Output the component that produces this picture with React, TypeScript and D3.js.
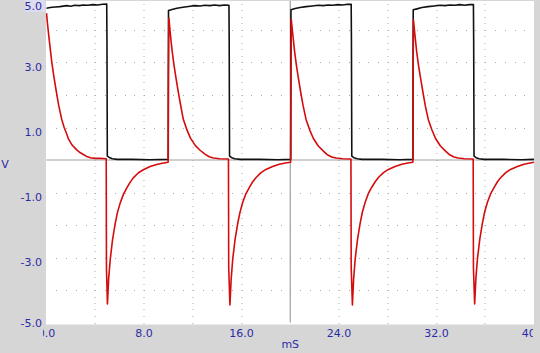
import React, { useRef, useEffect } from "react"
import * as d3 from "d3"

// time in mS, value in V
const xTicks = [0, 8, 16, 24, 32, 40]
const yTicks = [5, 3, 1, -1, -3, -5]
const xLabels = ["0.0", "8.0", "16.0", "24.0", "32.0", "40.0"]
const yLabels = ["5.0", "3.0", "1.0", "-1.0", "-3.0", "-5.0"]

const blackCycle1: [number, number][] = [
  [0, 4.67], [0.3, 4.69], [0.7, 4.71], [1.1, 4.72], [1.65, 4.75], [2.0, 4.73], [2.3, 4.76],
  [2.7, 4.75], [3.0, 4.77], [3.4, 4.76], [3.8, 4.78], [4.2, 4.77], [4.6, 4.79], [4.94, 4.8],
  [4.96, 3.75], [4.99, 0.12], [5.15, 0.08], [5.4, 0.04], [5.8, 0.02], [7.0, 0.02], [8.5, 0.01], [9.99, 0.02],
]
const blackCycle2: [number, number][] = [
  [10.01, 4.6], [10.3, 4.63], [10.7, 4.67], [11.2, 4.7], [11.8, 4.73], [12.2, 4.75], [12.6, 4.74],
  [13.0, 4.76], [13.4, 4.75], [13.8, 4.77], [14.2, 4.75], [14.6, 4.77], [14.97, 4.76],
  [14.99, 3.7], [15.02, 0.12], [15.2, 0.07], [15.45, 0.04], [15.9, 0.02], [17.5, 0.02], [19.0, 0.01], [20.04, 0.02],
]
const blackCycle3: [number, number][] = [
  [20.06, 4.62], [20.4, 4.66], [20.8, 4.69], [21.3, 4.72], [21.8, 4.74], [22.3, 4.76], [22.7, 4.75],
  [23.1, 4.77], [23.5, 4.76], [23.9, 4.78], [24.3, 4.77], [24.7, 4.79], [25.0, 4.79],
  [25.02, 3.7], [25.05, 0.12], [25.22, 0.07], [25.5, 0.04], [25.9, 0.02], [27.5, 0.02], [29.0, 0.01], [30.07, 0.02],
]
const blackCycle4: [number, number][] = [
  [30.09, 4.62], [30.4, 4.65], [30.8, 4.69], [31.3, 4.72], [31.8, 4.74], [32.3, 4.76], [32.7, 4.75],
  [33.1, 4.77], [33.5, 4.76], [33.9, 4.78], [34.3, 4.76], [34.7, 4.78], [35.03, 4.78],
  [35.05, 3.7], [35.08, 0.12], [35.25, 0.07], [35.5, 0.04], [35.9, 0.02], [37.5, 0.02], [39.0, 0.01], [40.0, 0.02],
]

const redCycle1: [number, number][] = [
  [0.0, 4.52], [0.08, 4.2], [0.2, 3.78], [0.32, 3.38], [0.43, 3.02], [0.6, 2.58], [0.8, 2.12],
  [1.0, 1.68], [1.25, 1.25], [1.45, 1.0], [1.66, 0.8], [1.79, 0.66], [2.1, 0.46], [2.48, 0.31],
  [2.75, 0.23], [3.02, 0.17], [3.3, 0.11], [3.6, 0.07], [3.98, 0.05], [4.4, 0.05], [4.9, 0.04],
  [4.92, -3.35], [5.0, -4.43], [5.1, -3.65], [5.23, -3.06], [5.42, -2.45], [5.64, -1.95], [5.82, -1.62],
  [6.05, -1.32], [6.32, -1.05], [6.6, -0.85], [6.87, -0.68], [7.12, -0.55], [7.52, -0.4], [7.94, -0.3],
  [8.5, -0.2], [9.04, -0.14], [9.5, -0.1], [9.98, -0.07],
]
const redCycle2: [number, number][] = [
  [10.0, 2.6], [10.04, 4.37], [10.15, 3.92], [10.3, 3.38], [10.45, 2.95], [10.6, 2.58], [10.8, 2.12],
  [11.0, 1.7], [11.22, 1.26], [11.5, 0.95], [11.8, 0.68], [12.2, 0.45], [12.6, 0.3], [13.0, 0.18],
  [13.35, 0.1], [13.69, 0.06], [14.2, 0.04], [14.93, 0.03],
  [14.95, -3.3], [15.05, -4.46], [15.15, -3.68], [15.28, -3.05], [15.47, -2.45], [15.68, -1.97], [15.87, -1.62],
  [16.1, -1.3], [16.36, -1.04], [16.65, -0.84], [16.92, -0.67], [17.2, -0.54], [17.6, -0.39], [18.0, -0.29],
  [18.55, -0.2], [19.1, -0.13], [19.6, -0.09], [20.03, -0.07],
]
const redCycle3: [number, number][] = [
  [20.05, 2.6], [20.08, 4.34], [20.2, 3.9], [20.35, 3.36], [20.5, 2.93], [20.65, 2.56], [20.85, 2.1],
  [21.05, 1.68], [21.3, 1.24], [21.6, 0.92], [21.9, 0.66], [22.3, 0.43], [22.7, 0.28], [23.05, 0.16],
  [23.4, 0.09], [23.75, 0.06], [24.3, 0.04], [24.98, 0.03],
  [25.0, -3.3], [25.1, -4.46], [25.2, -3.66], [25.33, -3.04], [25.52, -2.44], [25.73, -1.96], [25.92, -1.6],
  [26.15, -1.3], [26.41, -1.03], [26.7, -0.83], [26.97, -0.67], [27.25, -0.53], [27.65, -0.39], [28.05, -0.29],
  [28.6, -0.2], [29.15, -0.13], [29.65, -0.09], [30.06, -0.07],
]
const redCycle4: [number, number][] = [
  [30.08, 2.6], [30.11, 4.31], [30.22, 3.88], [30.37, 3.34], [30.52, 2.92], [30.68, 2.55], [30.88, 2.1],
  [31.08, 1.67], [31.33, 1.24], [31.62, 0.93], [31.92, 0.66], [32.32, 0.43], [32.72, 0.28], [33.08, 0.16],
  [33.43, 0.09], [33.78, 0.06], [34.3, 0.04], [35.01, 0.03],
  [35.03, -3.3], [35.13, -4.43], [35.23, -3.65], [35.36, -3.04], [35.55, -2.44], [35.76, -1.96], [35.95, -1.6],
  [36.18, -1.3], [36.44, -1.04], [36.73, -0.84], [37.0, -0.67], [37.28, -0.54], [37.68, -0.39], [38.08, -0.29],
  [38.63, -0.2], [39.18, -0.13], [39.68, -0.09], [40.0, -0.07],
]

const blackTrace = [...blackCycle1, ...blackCycle2, ...blackCycle3, ...blackCycle4]
const redTrace = [...redCycle1, ...redCycle2, ...redCycle3, ...redCycle4]

const App = () => {
  const element = useRef<SVGSVGElement>(null)

  useEffect(() => {
    const width = 540, height = 353
    const svg = d3.select(element.current)
    svg.selectAll("*").remove()

    const x = d3.scaleLinear().domain([0, 40]).range([46.5, 534])
    const y = d3.scaleLinear().domain([-5, 5]).range([322.5, -2.5])
    const blue = "#2b2ba6"
    const font = "DejaVu Sans, sans-serif"

    svg.append("rect").attr("width", width).attr("height", height).attr("fill", "#d6d6d6")
    svg.append("rect")
      .attr("x", 46).attr("y", 1)
      .attr("width", 488).attr("height", 323.5)
      .attr("fill", "#ffffff")

    const defs = svg.append("defs")
    defs.append("clipPath").attr("id", "plotClip")
      .append("rect").attr("x", 46).attr("y", 1).attr("width", 488).attr("height", 323.5)
    defs.append("clipPath").attr("id", "xLabClip")
      .append("rect").attr("x", 43).attr("y", 326).attr("width", 490).attr("height", 20)

    // dotted grid: dots at minor positions along each major line
    const grid = svg.append("g").attr("clip-path", "url(#plotClip)")
    const vLines = d3.range(4, 40, 4).filter(d => d !== 20)
    const hLines = d3.range(-4, 5, 1).filter(d => d !== 0)
    const vDots = d3.range(-5, 5.01, 0.2)
    const hDots = d3.range(0.8, 40, 0.8)
    vLines.forEach(t => {
      grid.selectAll(null).data(vDots).enter().append("rect")
        .attr("x", Math.round(x(t)) - 0.5).attr("y", d => Math.round(y(d)))
        .attr("width", 1).attr("height", 1).attr("fill", "#aaaaaa")
    })
    hLines.forEach(v => {
      grid.selectAll(null).data(hDots).enter().append("rect")
        .attr("x", d => Math.round(x(d))).attr("y", Math.round(y(v)))
        .attr("width", 1).attr("height", 1).attr("fill", "#aaaaaa")
    })

    // centre lines
    grid.append("line")
      .attr("x1", x(0)).attr("x2", x(40)).attr("y1", y(0)).attr("y2", y(0))
      .attr("stroke", "#a0a0a0").attr("stroke-width", 1.2)
    grid.append("line")
      .attr("x1", x(20)).attr("x2", x(20)).attr("y1", y(5)).attr("y2", y(-5))
      .attr("stroke", "#a0a0a0").attr("stroke-width", 1.2)

    const line = d3.line<[number, number]>().x(d => x(d[0])).y(d => y(d[1]))
    const traces = svg.append("g").attr("clip-path", "url(#plotClip)")
    traces.append("path").datum(blackTrace)
      .attr("fill", "none").attr("stroke", "#111111").attr("stroke-width", 1.6)
      .attr("stroke-linejoin", "round").attr("d", line)
    traces.append("path").datum(redTrace)
      .attr("fill", "none").attr("stroke", "#d40c0c").attr("stroke-width", 1.6)
      .attr("stroke-linejoin", "round").attr("d", line)

    // y labels
    svg.append("rect").attr("x", 25).attr("y", 0).attr("width", 20).attr("height", 12).attr("fill", "#dcdcef")
    svg.selectAll(".ylab").data(yTicks).enter().append("text")
      .attr("class", "ylab")
      .attr("x", 42)
      .attr("y", d => Math.min(Math.max(y(d) + 8, 10), 327))
      .attr("text-anchor", "end")
      .attr("font-family", font).attr("font-size", 11).attr("fill", blue)
      .text((d, i) => yLabels[i])

    // x labels, clipped at the plot edges like the scope display
    svg.append("g").attr("clip-path", "url(#xLabClip)")
      .selectAll("text").data(xTicks).enter().append("text")
      .attr("x", d => x(d)).attr("y", 337)
      .attr("text-anchor", "middle")
      .attr("font-family", font).attr("font-size", 11).attr("fill", blue)
      .text((d, i) => xLabels[i])

    svg.append("text").attr("x", x(20)).attr("y", 348)
      .attr("text-anchor", "middle")
      .attr("font-family", font).attr("font-size", 11).attr("fill", blue)
      .text("mS")
    svg.append("text").attr("x", 5).attr("y", 168)
      .attr("text-anchor", "middle")
      .attr("font-family", font).attr("font-size", 11).attr("fill", blue)
      .text("V")
  }, [])

  return (
    <svg ref={element} width={540} height={353}
      style={{ position: "absolute", left: 0, top: 0, display: "block" }} />
  )
}

export default App
